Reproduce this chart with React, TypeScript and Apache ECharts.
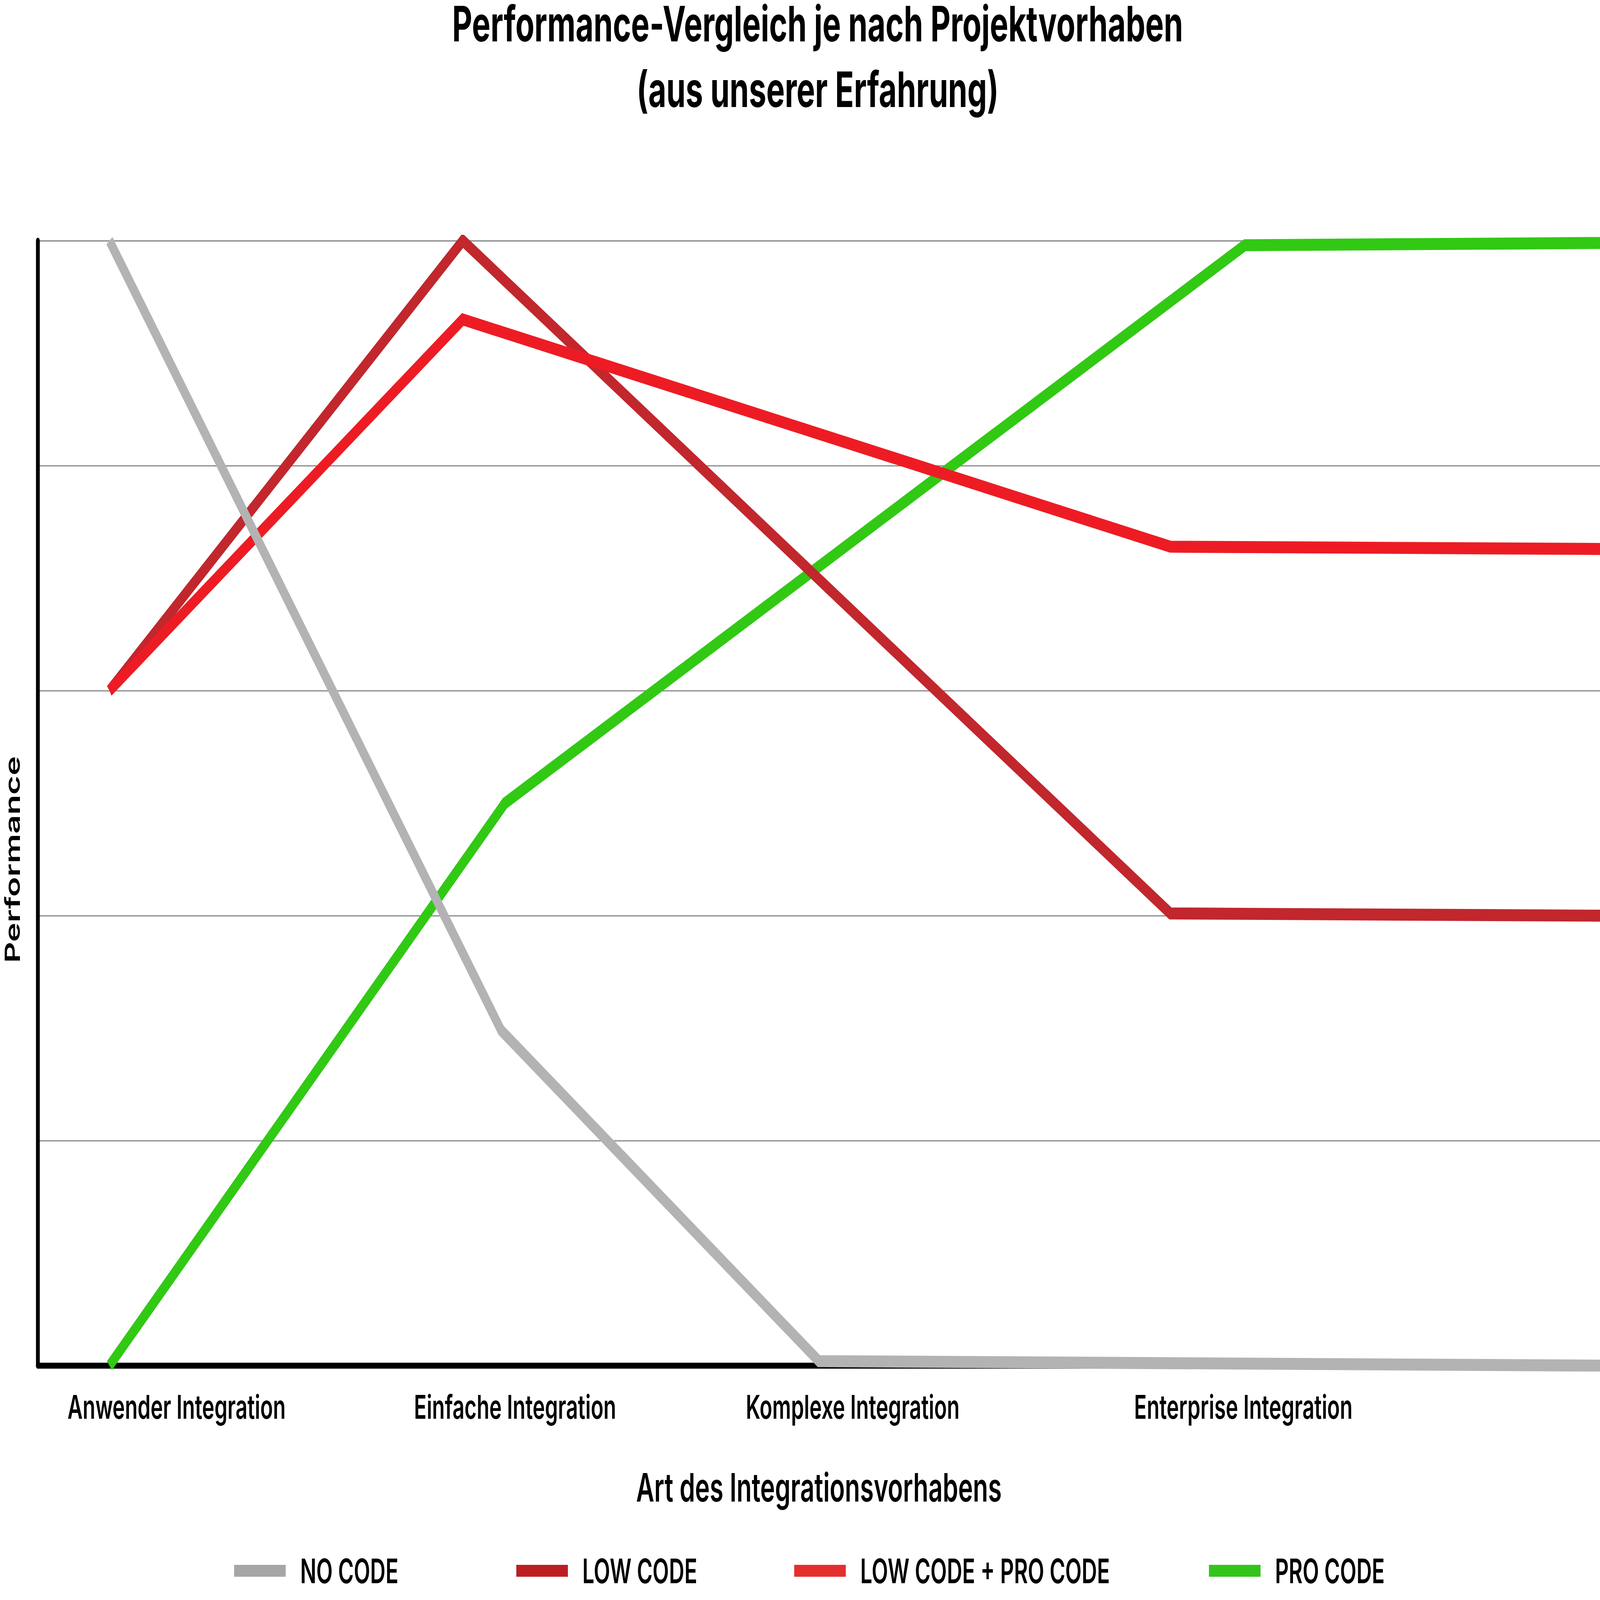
import React, { useEffect, useRef } from "react";
import * as echarts from "echarts";

const W = 6759;
const H = 4274;

const TITLE_LINE_1 = "Performance-Vergleich je nach Projektvorhaben";
const TITLE_LINE_2 = "(aus unserer Erfahrung)";
const X_AXIS_NAME = "Art des Integrationsvorhabens";
const Y_AXIS_NAME = "Performance";

const CATEGORY_LABELS = [
  "Anwender Integration",
  "Einfache Integration",
  "Komplexe Integration",
  "Enterprise Integration",
];
const CATEGORY_POSITIONS = [8.88, 30.55, 52.16, 77.17];

const SERIES_NAMES = ["NO CODE", "LOW CODE", "LOW CODE + PRO CODE", "PRO CODE"];

const NO_CODE_X = [4.58, 29.66, 50.0, 100];
const NO_CODE_Y = [5.0, 1.49, 0.02, 0.0];

const LOW_CODE_X = [4.58, 27.2, 72.5, 100];
const LOW_CODE_Y = [3.0, 5.0, 2.01, 2.0];

const LOW_PRO_X = [4.58, 27.2, 72.5, 100];
const LOW_PRO_Y = [3.0, 4.65, 3.64, 3.63];

const PRO_CODE_X = [4.58, 29.9, 77.27, 100];
const PRO_CODE_Y = [0.0, 2.5, 4.98, 4.99];

const LINE_COLORS = ["#b3b3b3", "#c1272d", "#ed1c24", "#31c914"];
const LEGEND_COLORS = ["#a6a6a6", "#bb1f22", "#e52e2e", "#33c41a"];
const LEGEND_LEFT = [989, 2181, 3355, 5107];
const SERIES_Z = [5, 3, 4, 2];

const FONT = "Inter";

function pairs(xs: number[], ys: number[]) {
  return xs.map((x, i) => [x, ys[i]]);
}

export default function App() {
  const ref = useRef<HTMLDivElement>(null);
  const vw = (typeof window !== "undefined" && window.innerWidth) || W;
  const vh = (typeof window !== "undefined" && window.innerHeight) || H;
  const sx = vw / W;
  const sy = vh / H;

  useEffect(() => {
    document.body.style.margin = "0";
    document.body.style.overflow = "hidden";
    if (!ref.current) return;
    const chart = echarts.init(ref.current, null, { renderer: "svg" });

    const seriesData = [
      pairs(NO_CODE_X, NO_CODE_Y),
      pairs(LOW_CODE_X, LOW_CODE_Y),
      pairs(LOW_PRO_X, LOW_PRO_Y),
      pairs(PRO_CODE_X, PRO_CODE_Y),
    ];

    const titleFont = {
      fontFamily: FONT,
      fontWeight: 700,
      fontSize: 131,
      lineHeight: 126,
      color: "#000000",
    };

    const option: any = {
      animation: false,
      backgroundColor: "#ffffff",
      title: {
        text: TITLE_LINE_1,
        subtext: TITLE_LINE_2,
        left: 3454,
        top: 0,
        textAlign: "center",
        padding: 0,
        itemGap: 44,
        textStyle: titleFont,
        subtextStyle: titleFont,
      },
      legend: SERIES_NAMES.map((name, i) => ({
        data: [{ name, itemStyle: { color: LEGEND_COLORS[i] } }],
        left: LEGEND_LEFT[i],
        top: 4196 - 45,
        padding: 0,
        icon: "rect",
        itemWidth: 218,
        itemHeight: 32,
        selectedMode: false,
        textStyle: {
          fontFamily: FONT,
          fontWeight: 600,
          fontSize: 90,
          color: "#000000",
          padding: [0, 0, 0, 56],
        },
      })),
      grid: {
        left: 150,
        right: 0,
        top: 643,
        bottom: H - 3648,
        containLabel: false,
      },
      xAxis: {
        type: "value",
        min: 0,
        max: 100,
        z: 1,
        name: X_AXIS_NAME,
        nameLocation: "middle",
        nameGap: 3972 - 3648 - 52,
        nameTextStyle: {
          fontFamily: FONT,
          fontWeight: 600,
          fontSize: 105,
          color: "#000000",
        },
        axisLine: { show: true, onZero: false, lineStyle: { color: "#000000", width: 16 } },
        axisTick: { show: false },
        splitLine: { show: false },
        axisLabel: {
          customValues: CATEGORY_POSITIONS,
          formatter: (v: number) => {
            const idx = CATEGORY_POSITIONS.findIndex((p) => Math.abs(p - v) < 1e-6);
            return idx >= 0 ? CATEGORY_LABELS[idx] : "";
          },
          margin: 3758 - 3648 - 44,
          fontFamily: FONT,
          fontWeight: 600,
          fontSize: 88,
          color: "#000000",
          hideOverlap: false,
        },
      },
      yAxis: {
        type: "value",
        min: 0,
        max: 5,
        interval: 1,
        name: Y_AXIS_NAME,
        nameLocation: "middle",
        nameRotate: 90,
        nameGap: 150 - 42 - 44,
        nameTextStyle: {
          fontFamily: FONT,
          fontWeight: 600,
          fontSize: 88,
          color: "#000000",
          padding: [0, 2 * (2296 - (643 + 3648) / 2), 0, 0],
        },
        axisLabel: { show: false },
        axisTick: { show: false },
        axisLine: { show: true, lineStyle: { color: "#000000", width: 16 } },
        splitLine: { show: true, lineStyle: { color: "#808080", width: 3 } },
      },
      series: SERIES_NAMES.map((name, i) => ({
        name,
        type: "line",
        data: seriesData[i],
        showSymbol: false,
        symbol: "none",
        z: SERIES_Z[i],
        color: LINE_COLORS[i],
        lineStyle: {
          color: LINE_COLORS[i],
          width: 32,
          join: "miter",
          cap: "butt",
        },
        emphasis: { disabled: true },
      })),
    };

    chart.setOption(option);
    return () => chart.dispose();
  }, []);

  return (
    <div
      ref={ref}
      style={{
        width: W,
        height: H,
        transform: `scale(${sx}, ${sy})`,
        transformOrigin: "0 0",
      }}
    />
  );
}
